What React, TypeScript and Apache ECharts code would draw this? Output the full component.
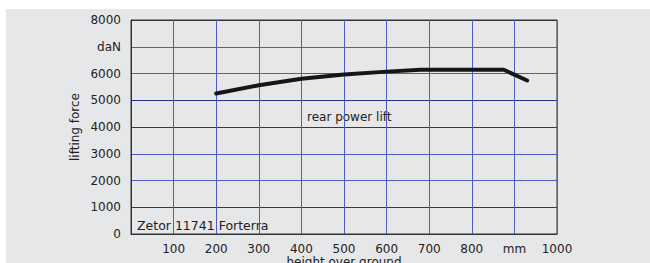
import React, { useEffect, useRef } from "react";
import * as echarts from "echarts";

const heights = [200, 300, 400, 500, 600, 680, 780, 875, 930];
const forces = [5250, 5560, 5800, 5960, 6070, 6140, 6140, 6140, 5740];
const yTickLabels: Record<number, string> = { 7000: "daN" };
const xTickLabels: Record<number, string> = { 0: "", 900: "mm" };
const FONT = "DejaVu Sans, Liberation Sans, Arial, sans-serif";

export default function App() {
  const ref = useRef<HTMLDivElement>(null);
  useEffect(() => {
    if (!ref.current) return;
    const chart = echarts.init(ref.current, undefined, { renderer: "svg" });
    const gridBlue = "#4f5cc0";
    const gridDark = "#26328f";
    chart.setOption({
      animation: false,
      backgroundColor: "transparent",
      textStyle: { fontFamily: FONT },
      grid: {
        left: 131,
        top: 20,
        width: 426,
        height: 214,
        containLabel: false,
        outerBoundsMode: "none",
        show: true,
        borderColor: "#333",
        borderWidth: 1,
        backgroundColor: "transparent",
      },
      xAxis: {
        type: "value",
        min: 0,
        max: 1000,
        interval: 100,
        name: "height over ground",
        nameLocation: "middle",
        nameGap: 22,
        nameMoveOverlap: false,
        nameTextStyle: { color: "#222", fontSize: 12, fontFamily: FONT, verticalAlign: "top" },
        axisLine: { show: true, lineStyle: { color: "#333", width: 1 } },
        axisTick: { show: false },
        axisLabel: {
          color: "#222",
          fontSize: 12,
          fontFamily: FONT,
          margin: 9,
          formatter: (v: number) => (v in xTickLabels ? xTickLabels[v] : String(v)),
        },
        splitLine: { show: true, lineStyle: { color: gridBlue, width: 1 } },
      },
      yAxis: {
        type: "value",
        min: 0,
        max: 8000,
        interval: 1000,
        name: "lifting force",
        nameLocation: "middle",
        nameGap: 50,
        nameMoveOverlap: false,
        nameTextStyle: { color: "#222", fontSize: 12, fontFamily: FONT },
        axisLine: { show: true, lineStyle: { color: "#333", width: 1 } },
        axisTick: { show: false },
        axisLabel: {
          color: "#222",
          fontSize: 12,
          fontFamily: FONT,
          margin: 10,
          formatter: (v: number) => (v in yTickLabels ? yTickLabels[v] : String(v)),
        },
        splitLine: {
          show: true,
          lineStyle: {
            color: [gridBlue, gridDark, gridBlue, gridBlue, gridDark, gridDark, gridBlue, gridBlue, "#333"],
            width: 1,
          },
        },
      },
      series: [
        {
          type: "line",
          data: heights.map((h, i) => [h, forces[i]]),
          showSymbol: false,
          lineStyle: { color: "#161616", width: 4, cap: "round", join: "round" },
          z: 5,
        },
      ],
      graphic: [
        {
          type: "text",
          left: 307,
          top: 111,
          style: { text: "rear power lift", fill: "#222", font: `12px ${FONT}` },
        },
        {
          type: "text",
          left: 137,
          top: 219,
          style: { text: "Zetor 11741 Forterra", fill: "#222", font: `12.5px ${FONT}` },
        },
      ],
    });
    return () => chart.dispose();
  }, []);
  return (
    <div style={{ position: "fixed", left: 0, top: 0, width: 650, height: 263, background: "#fff", overflow: "hidden" }}>
      <div style={{ position: "absolute", left: 6, top: 9, right: 0, bottom: 0, background: "#e6e7e9" }} />
      <div ref={ref} style={{ position: "absolute", left: 0, top: 0, width: 650, height: 263 }} />
    </div>
  );
}
